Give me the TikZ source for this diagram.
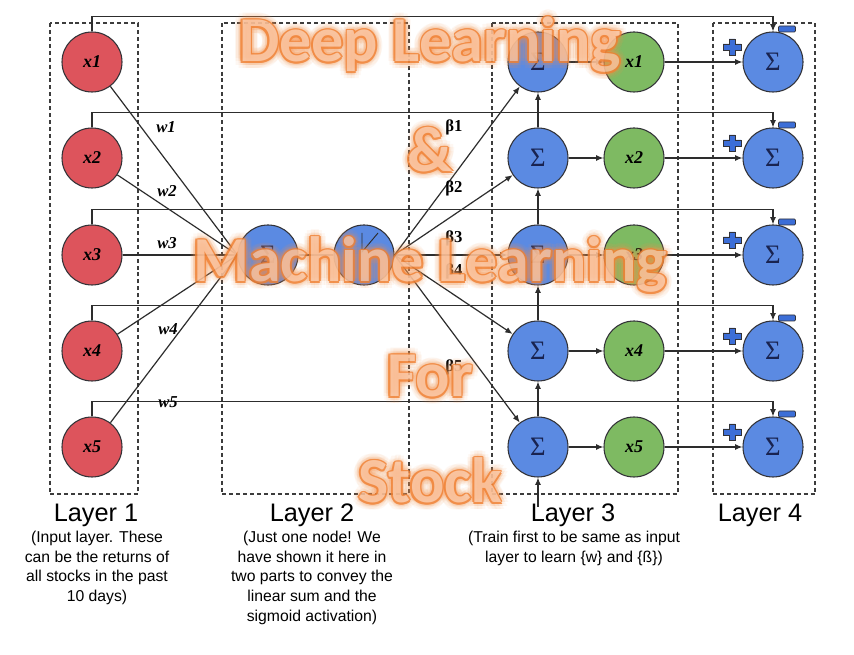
\documentclass[tikz,border=0pt]{standalone}
\usepackage{fontspec}
\setmainfont{Liberation Serif}
\setsansfont{Liberation Sans}
\newfontfamily\ovfont{Carlito}
\usetikzlibrary{arrows.meta}
\definecolor{redn}{RGB}{221,84,92}
\definecolor{bluen}{RGB}{91,138,226}
\definecolor{greenn}{RGB}{126,186,98}
\definecolor{nodeb}{RGB}{50,50,55}
\definecolor{linec}{RGB}{45,45,45}
\definecolor{boxc}{RGB}{60,60,60}
\definecolor{sigc}{RGB}{25,35,80}
\definecolor{pmblue}{RGB}{60,110,215}
\definecolor{ovfill}{RGB}{250,196,160}
\definecolor{ovline}{RGB}{240,128,50}
\definecolor{ovglow}{RGB}{247,150,80}
\newcommand\nodefont{\fontsize{13.5}{14}\selectfont\bfseries\itshape}
\newcommand\sigfont{\fontsize{20}{20}\selectfont}
\newcommand\ovtext[4]{%
  \foreach \a in {0,30,...,330}{%
    \node[ovl, text=ovglow, opacity=0.07] (#1g\a) at ([shift={(\a:7)}]#2,#3) {#4};
    \node[ovl, text=ovglow, opacity=0.08] (#1h\a) at ([shift={(\a:4)}]#2,#3) {#4};}
  \begin{scope}[transparency group, opacity=0.8]
  \foreach \a in {0,45,...,315}{%
    \node[ovl, text=ovline] (#1o\a) at ([shift={(\a:1.6)}]#2,#3) {#4};}
  \node[ovl, text=ovfill] (#1) at (#2,#3) {#4};
  \end{scope}}
\begin{document}
\begin{tikzpicture}[x=0.75pt,y=-0.75pt,
  conn/.style={draw=linec, line width=0.9pt},
  arr/.style={conn, -{Latex[length=5.5pt,width=4.5pt]}},
  neuron/.style={circle, draw=nodeb, line width=0.8pt, minimum size=45pt, inner sep=0pt},
  rnode/.style={neuron, fill=redn, font=\nodefont},
  bnode/.style={neuron, fill=bluen, font=\sigfont, text=sigc},
  gnode/.style={neuron, fill=greenn, font=\nodefont},
  lbox/.style={draw=boxc, dash pattern=on 3pt off 2.2pt, line width=0.8pt},
  wlab/.style={font=\fontsize{12.5}{13}\selectfont\bfseries\itshape},
  blab/.style={font=\fontsize{12.5}{13}\selectfont\bfseries},
  laytitle/.style={font=\sffamily\fontsize{19}{20}\selectfont, anchor=base},
  laydesc/.style={font=\sffamily\fontsize{11.8}{14.7}\selectfont, align=center, anchor=north, inner sep=0pt},
  ovl/.style={font=\ovfont\bfseries\fontsize{48}{50}\selectfont, anchor=base, inner sep=0pt},
  pm/.style={fill=pmblue, draw=nodeb, line width=0.5pt}
]
\useasboundingbox (0,0) rectangle (854,655);
\fill[white] (0,0) rectangle (854,655);

% layer boxes
\draw[lbox] (50,23) rectangle (138,494);
\draw[lbox] (222,23) rectangle (409,494);
\draw[lbox] (492,23) rectangle (678,494);
\draw[lbox] (713,23) rectangle (815,494);

% nodes
\foreach \i/\y in {1/62,2/158,3/255,4/351,5/447} {
  \node[rnode] (x\i) at (92,\y) {x\i};
  \node[bnode] (a\i) at (538,\y) {Σ};
  \node[gnode] (g\i) at (634,\y) {x\i};
  \node[bnode] (d\i) at (773,\y) {Σ};
  \fill[pm] (773-41-3,\y-15-8) -- (773-41+3,\y-15-8) -- (773-41+3,\y-15-3) -- (773-41+9,\y-15-3)
    -- (773-41+9,\y-15+3) -- (773-41+3,\y-15+3) -- (773-41+3,\y-15+8) -- (773-41-3,\y-15+8)
    -- (773-41-3,\y-15+3) -- (773-41-9,\y-15+3) -- (773-41-9,\y-15-3) -- (773-41-3,\y-15-3) -- cycle;
  \filldraw[pm, rounded corners=0.8pt] (787-8.5,\y-33-3) rectangle (787+8.5,\y-33+3);
}
\node[bnode] (s2) at (268,255) {Σ};
\node[bnode] (sg) at (364,255) {};
\draw[linec, line width=0.7pt] ([shift={(-2,-22)}]sg.center) -- ([shift={(-2,-3)}]sg.center) -- ([shift={(14,-22)}]sg.center);

% connectors
\foreach \i in {1,2,4,5} \draw[conn] (x\i) -- (s2.west);
\draw[conn] (x3) -- (s2);
\draw[conn] (s2) -- (sg);
\foreach \i in {1,...,5} {
  \draw[arr] (sg.east) -- (a\i);
  \draw[arr] (a\i) -- (g\i);
  \draw[arr] (g\i) -- (d\i);
  \draw[arr] (x\i.north) -- ++(0,-15) -| (d\i.north);
}
\foreach \i/\j in {2/1,3/2,4/3,5/4} \draw[arr] (a\i) -- (a\j);
\coordinate (bot) at (538,507);
\draw[arr] (bot) -- (a5);

% weight labels
\node[wlab] (w1) at (166,127) {w1};
\node[wlab] (w2) at (167,191) {w2};
\node[wlab] (w3) at (167,243) {w3};
\node[wlab] (w4) at (168,329) {w4};
\node[wlab] (w5) at (168,402) {w5};
\node[blab] (b1) at (454,127) {β1};
\node[blab] (b2) at (454,188) {β2};
\node[blab] (b3) at (454,238) {β3};
\node[blab] (b4) at (454,271) {β4};
\node[blab] (b5) at (454,367) {β5};

% layer texts
\node[laytitle] (L1) at (96,522) {Layer 1};
\node[laytitle] (L2) at (312,522) {Layer 2};
\node[laytitle] (L3) at (573,522) {Layer 3};
\node[laytitle] (L4) at (760,522) {Layer 4};
\node[laydesc] (D1) at (97,531) {(Input layer. These\\can be the returns of\\all stocks in the past\\10 days)};
\node[laydesc] (D2) at (312,531) {(Just one node! We\\have shown it here in\\two parts to convey the\\linear sum and the\\sigmoid activation)};
\node[laydesc] (D3) at (574,531) {(Train first to be same as input\\layer to learn \{w\} and \{ß\})};

% overlay title
\ovtext{t1}{430}{62}{Deep Learning}
\ovtext{t2}{430}{172}{\&}
\ovtext{t3}{430}{282}{Machine Learning}
\ovtext{t4}{430}{397}{For}
\ovtext{t5}{430}{503}{Stock}
\end{tikzpicture}
\end{document}
